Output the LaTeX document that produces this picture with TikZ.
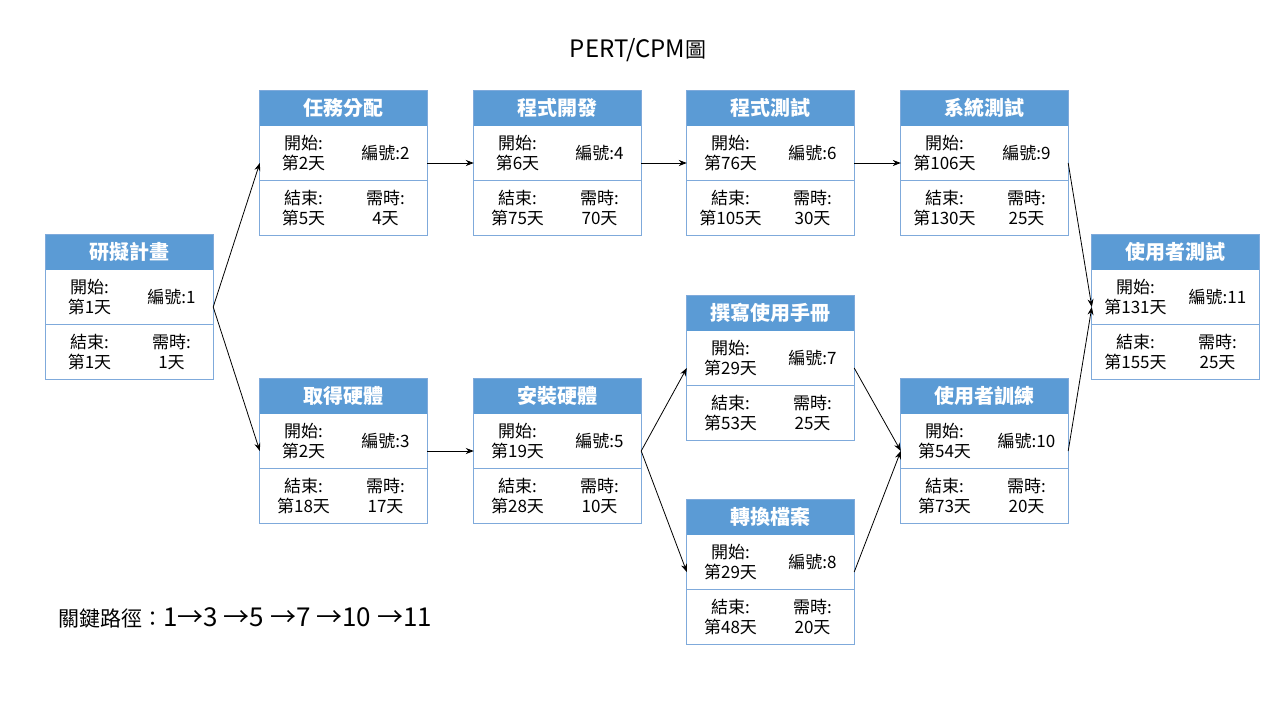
\documentclass[tikz,border=0pt]{standalone}
\usepackage{fontspec}
\setmainfont{Noto Sans CJK TC}
\usetikzlibrary{arrows.meta}
\definecolor{hdrblue}{HTML}{5B9BD5}
\definecolor{lineblue}{HTML}{7FAADB}
\tikzset{
  boxanchor/.style={draw=none,minimum width=167pt,minimum height=144pt,inner sep=0pt},
  boxline/.style={draw=lineblue,line width=1.2pt},
  divline/.style={draw=lineblue,line width=0.9pt},
  hdrtext/.style={text=white,font=\fontsize{20}{24}\selectfont\bfseries,inner sep=0pt},
  celltext/.style={align=center,font=\fontsize{17}{20.5}\selectfont,inner sep=0pt},
  conn/.style={draw=black,line width=0.8pt,-{Stealth[length=8pt,width=6pt]}},
}
\newcommand\pbox[8]{%
  \node[boxanchor] (#1) at (#2+83.5,#3+72) {};
  \fill[hdrblue] (#1.north west) rectangle ([yshift=-35pt]#1.north east);
  \draw[divline] ([yshift=-90pt]#1.north west) -- ([yshift=-90pt]#1.north east);
  \draw[boxline] (#1.north west) rectangle (#1.south east);
  \node[hdrtext] (#1-h) at ([yshift=-17.5pt]#1.north) {#4};
  \node[celltext] (#1-s) at ([xshift=-40pt,yshift=-62pt]#1.north) {開始:\\第#5天};
  \node[celltext] (#1-i) at ([xshift=42pt,yshift=-62pt]#1.north) {編號:#6};
  \node[celltext] (#1-e) at ([xshift=-40pt,yshift=-117pt]#1.north) {結束:\\第#7天};
  \node[celltext] (#1-d) at ([xshift=42pt,yshift=-117pt]#1.north) {需時:\\#8天};
}
\begin{document}
\begin{tikzpicture}[x=1pt,y=-1pt]
\useasboundingbox[fill=white] (0,0) rectangle (1280,720);
\node[font=\fontsize{24}{28}\selectfont,inner sep=0pt] (title) at (638,50) {PERT/CPM\fontsize{21}{25}\selectfont 圖};
\node[font=\fontsize{21}{25}\selectfont,inner sep=0pt,anchor=west] (crit) at (58,618) {關鍵路徑：{\fontsize{26}{29}\selectfont 1→3 →5 →7 →10 →11}};
\pbox{n1}{46}{235}{研擬計畫}{1}{1}{1}{1}
\pbox{n2}{260}{91}{任務分配}{2}{2}{5}{4}
\pbox{n4}{474}{91}{程式開發}{6}{4}{75}{70}
\pbox{n6}{687}{91}{程式測試}{76}{6}{105}{30}
\pbox{n9}{901}{91}{系統測試}{106}{9}{130}{25}
\pbox{n11}{1092}{235}{使用者測試}{131}{11}{155}{25}
\pbox{n3}{260}{379}{取得硬體}{2}{3}{18}{17}
\pbox{n5}{474}{379}{安裝硬體}{19}{5}{28}{10}
\pbox{n7}{687}{296}{撰寫使用手冊}{29}{7}{53}{25}
\pbox{n8}{687}{500}{轉換檔案}{29}{8}{48}{20}
\pbox{n10}{901}{379}{使用者訓練}{54}{10}{73}{20}
\draw[conn] (n1.east) -- (n2.west);
\draw[conn] (n1.east) -- (n3.west);
\draw[conn] (n2.east) -- (n4.west);
\draw[conn] (n4.east) -- (n6.west);
\draw[conn] (n6.east) -- (n9.west);
\draw[conn] (n9.east) -- (n11.west);
\draw[conn] (n3.east) -- (n5.west);
\draw[conn] (n5.east) -- (n7.west);
\draw[conn] (n5.east) -- (n8.west);
\draw[conn] (n7.east) -- (n10.west);
\draw[conn] (n8.east) -- (n10.west);
\draw[conn] (n10.east) -- (n11.west);
\end{tikzpicture}
\end{document}
